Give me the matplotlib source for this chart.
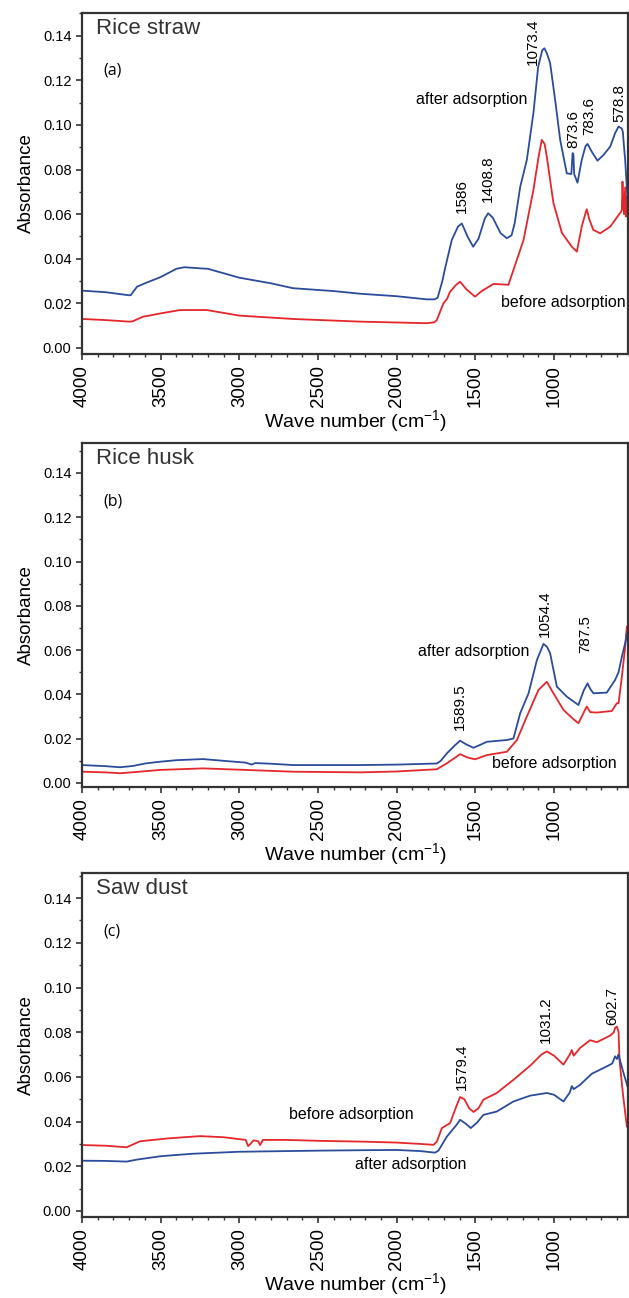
import matplotlib
matplotlib.use("Agg")
import matplotlib.pyplot as plt
from matplotlib.ticker import MultipleLocator

plt.rcParams['font.family'] = ['Liberation Sans', 'DejaVu Sans']

# ---- data (wave number cm-1, absorbance) ----
# (a) rice straw
straw_after_wn = [4000, 3850, 3700, 3690, 3650, 3600, 3500, 3400, 3350, 3250, 3200, 3000, 2800, 2660,
                  2400, 2230, 2000, 1810, 1760, 1740, 1710, 1690, 1650, 1610, 1586, 1550, 1514, 1480,
                  1440, 1419, 1390, 1340, 1300, 1270, 1250, 1215, 1173, 1131, 1101, 1075, 1061, 1045,
                  1025, 993, 961, 919, 890, 882, 877, 872, 851, 824, 800, 787, 760, 724, 686, 643, 612,
                  590, 584, 570, 563, 555, 548, 540, 530]
straw_after = [0.0257, 0.0250, 0.0236, 0.0237, 0.0275, 0.0290, 0.0318, 0.0355, 0.0362, 0.0357, 0.0355,
               0.0315, 0.0290, 0.0268, 0.0255, 0.0243, 0.0232, 0.0218, 0.0218, 0.0225, 0.0300, 0.0365,
               0.0484, 0.0545, 0.0558, 0.0500, 0.0454, 0.0490, 0.0580, 0.0604, 0.0585, 0.0515, 0.0492,
               0.0505, 0.0560, 0.0723, 0.0843, 0.1054, 0.1261, 0.1335, 0.1344, 0.1320, 0.1278, 0.1112,
               0.0933, 0.0783, 0.0780, 0.0874, 0.0870, 0.0780, 0.0741, 0.0843, 0.0905, 0.0915, 0.0880,
               0.0840, 0.0865, 0.0903, 0.0963, 0.0993, 0.0990, 0.0985, 0.0970, 0.0900, 0.0843, 0.0750,
               0.0634]
straw_before_wn = [4000, 3850, 3700, 3680, 3612, 3500, 3377, 3207, 3000, 2660, 2233, 1809, 1760, 1745,
                   1720, 1703, 1680, 1661, 1620, 1597, 1560, 1502, 1460, 1385, 1330, 1290, 1258, 1194,
                   1131, 1100, 1078, 1060, 1046, 1004, 950, 887, 855, 824, 800, 792, 775, 750, 707, 643,
                   597, 575, 569, 565, 560, 555, 548, 542, 538, 530]
straw_before = [0.0130, 0.0125, 0.0118, 0.0119, 0.0140, 0.0155, 0.0170, 0.0170, 0.0145, 0.0130, 0.0118,
                0.0111, 0.0115, 0.0125, 0.0170, 0.0200, 0.0220, 0.0252, 0.0285, 0.0297, 0.0265, 0.0230,
                0.0255, 0.0287, 0.0285, 0.0283, 0.0350, 0.0484, 0.0709, 0.0850, 0.0933, 0.0915, 0.0858,
                0.0650, 0.0516, 0.0454, 0.0432, 0.0544, 0.0605, 0.0622, 0.0575, 0.0529, 0.0514, 0.0544,
                0.0589, 0.0610, 0.0621, 0.0746, 0.0640, 0.0600, 0.0720, 0.0589, 0.0680, 0.0600]

# (b) rice husk
husk_after_wn = [4000, 3850, 3758, 3676, 3600, 3504, 3400, 3231, 3100, 2960, 2921, 2900, 2800, 2659,
                 2233, 2000, 1745, 1720, 1681, 1630, 1597, 1560, 1512, 1470, 1427, 1300, 1258, 1215,
                 1162, 1109, 1067, 1045, 1025, 982, 919, 845, 810, 787, 770, 750, 665, 612, 590, 569,
                 545, 537]
husk_after = [0.0081, 0.0076, 0.0071, 0.0077, 0.0088, 0.0096, 0.0103, 0.0108, 0.0100, 0.0092, 0.0083,
              0.0090, 0.0087, 0.0081, 0.0081, 0.0083, 0.0088, 0.0100, 0.0134, 0.0170, 0.0191, 0.0175,
              0.0159, 0.0172, 0.0186, 0.0194, 0.0201, 0.0315, 0.0405, 0.0555, 0.0628, 0.0615, 0.0586,
              0.0435, 0.0390, 0.0352, 0.0420, 0.0450, 0.0425, 0.0405, 0.0408, 0.0465, 0.0500, 0.0570,
              0.0640, 0.0676]
husk_before_wn = [4000, 3850, 3758, 3650, 3504, 3231, 3000, 2659, 2233, 2000, 1745, 1681, 1597, 1550,
                  1502, 1427, 1300, 1236, 1173, 1099, 1046, 1004, 940, 880, 845, 810, 792, 770, 729,
                  633, 601, 590, 569, 550, 537]
husk_before = [0.0051, 0.0048, 0.0044, 0.0050, 0.0059, 0.0066, 0.0060, 0.0051, 0.0048, 0.0052, 0.0062,
               0.0089, 0.0130, 0.0115, 0.0107, 0.0126, 0.0141, 0.0194, 0.0300, 0.0420, 0.0457, 0.0405,
               0.0330, 0.0290, 0.0270, 0.0320, 0.0345, 0.0320, 0.0318, 0.0325, 0.0360, 0.0360, 0.0480,
               0.0600, 0.0706]

# (c) saw dust
saw_before_wn = [4000, 3850, 3716, 3631, 3450, 3250, 3100, 2960, 2944, 2930, 2910, 2880, 2868, 2850,
                 2700, 2500, 2200, 2000, 1850, 1766, 1745, 1713, 1661, 1620, 1597, 1570, 1540, 1512,
                 1480, 1449, 1364, 1258, 1152, 1080, 1046, 1000, 940, 900, 887, 875, 834, 771, 750,
                 729, 643, 620, 612, 600, 590, 584, 563, 548, 537]
saw_before = [0.0295, 0.0292, 0.0285, 0.0312, 0.0325, 0.0335, 0.0330, 0.0318, 0.0290, 0.0300, 0.0316,
              0.0312, 0.0295, 0.0318, 0.0318, 0.0314, 0.0310, 0.0306, 0.0300, 0.0296, 0.0310, 0.0371,
              0.0393, 0.0470, 0.0510, 0.0500, 0.0460, 0.0443, 0.0460, 0.0498, 0.0528, 0.0587, 0.0650,
              0.0700, 0.0714, 0.0695, 0.0655, 0.0700, 0.0720, 0.0695, 0.0730, 0.0764, 0.0760, 0.0755,
              0.0785, 0.0800, 0.0819, 0.0825, 0.0800, 0.0677, 0.0529, 0.0440, 0.0378]
saw_after_wn = [4000, 3850, 3716, 3650, 3500, 3300, 3000, 2700, 2500, 2200, 2000, 1850, 1756, 1735,
                1681, 1620, 1597, 1560, 1529, 1490, 1449, 1364, 1258, 1152, 1046, 1000, 940, 900, 887,
                875, 834, 760, 665, 630, 612, 600, 591, 575, 559, 533]
saw_after = [0.0225, 0.0224, 0.0221, 0.0230, 0.0245, 0.0256, 0.0265, 0.0268, 0.0270, 0.0272, 0.0273,
             0.0268, 0.0261, 0.0270, 0.0333, 0.0385, 0.0408, 0.0390, 0.0371, 0.0395, 0.0430, 0.0445,
             0.0490, 0.0516, 0.0528, 0.0520, 0.0490, 0.0530, 0.0559, 0.0545, 0.0565, 0.0614, 0.0647,
             0.0660, 0.0692, 0.0680, 0.0700, 0.0660, 0.0619, 0.0557]

# peak labels: (text, x, y of label bottom)
straw_peaks = [("1073.4", 1133, 0.1269), ("873.6", 879, 0.0897), ("783.6", 777, 0.0955),
               ("578.8", 586, 0.1013), ("1586", 1584, 0.0605), ("1408.8", 1419, 0.0655)]
husk_peaks = [("1589.5", 1597, 0.0239), ("1054.4", 1057, 0.0660), ("787.5", 802, 0.0586)]
saw_peaks = [("1579.4", 1586, 0.0543), ("1031.2", 1053, 0.0752), ("602.7", 629, 0.0834)]

BLUE = '#2b4c9b'
RED = '#e5262b'
DARK = '#333333'

panels = [
    dict(name="Rice straw", tag="(a)", pos=[0.1304, 0.7273, 0.868, 0.2630], ylim=(-0.0027, 0.1504),
         after=(straw_after_wn, straw_after), before=(straw_before_wn, straw_before), peaks=straw_peaks,
         after_txt=(1521, 0.1112), before_txt=(939, 0.0202)),
    dict(name="Rice husk", tag="(b)", pos=[0.1304, 0.3937, 0.868, 0.2650], ylim=(-0.0018, 0.1535),
         after=(husk_after_wn, husk_after), before=(husk_before_wn, husk_before), peaks=husk_peaks,
         after_txt=(1512, 0.0593), before_txt=(999, 0.0086)),
    dict(name="Saw dust", tag="(c)", pos=[0.1304, 0.0624, 0.868, 0.2653], ylim=(-0.0027, 0.1514),
         after=(saw_after_wn, saw_after), before=(saw_before_wn, saw_before), peaks=saw_peaks,
         after_txt=(1908, 0.0206), before_txt=(2290, 0.0430)),
]

fig = plt.figure(figsize=(6.29, 12.98), dpi=100)

for p in panels:
    ax = fig.add_axes(p['pos'])
    ax.plot(p['before'][0], p['before'][1], color=RED, lw=1.3)
    ax.plot(p['after'][0], p['after'][1], color=BLUE, lw=1.3)
    ax.set_xlim(4000, 530)
    ax.set_ylim(*p['ylim'])

    ax.xaxis.set_major_locator(MultipleLocator(500))
    ax.xaxis.set_minor_locator(MultipleLocator(100))
    ax.yaxis.set_major_locator(MultipleLocator(0.02))
    ax.yaxis.set_minor_locator(MultipleLocator(0.01))
    ax.yaxis.set_major_formatter(matplotlib.ticker.FormatStrFormatter('%.2f'))
    ax.tick_params(axis='x', which='major', labelsize=13.5, labelrotation=90, length=4, width=1.2,
                   color=DARK, pad=4)
    ax.tick_params(axis='y', which='major', labelsize=10.5, length=4, width=1.2, color=DARK)
    ax.tick_params(which='minor', length=2.5, width=1, color=DARK)
    for s in ax.spines.values():
        s.set_color(DARK)
        s.set_linewidth(1.6)

    ax.set_ylabel("Absorbance", fontsize=13.5, labelpad=6)
    ax.set_xlabel(r"Wave number (cm$^{\mathregular{-1}}$)", fontsize=14, labelpad=1)

    ax.text(0.026, 0.985, p['name'], transform=ax.transAxes, fontsize=16, color=DARK,
            ha='left', va='top')
    ax.text(0.04, 0.83, p['tag'], transform=ax.transAxes, fontsize=11.5, color='black',
            family=['Open Sans', 'DejaVu Sans'], ha='left', va='center')

    ax.text(*p['after_txt'], "after adsorption", fontsize=11.5, ha='center', va='center')
    ax.text(*p['before_txt'], "before adsorption", fontsize=11.5, ha='center', va='center')
    for txt, x, y in p['peaks']:
        ax.text(x, y, txt, rotation=90, fontsize=11, ha='center', va='bottom')

fig.savefig("out.png", dpi=100)
